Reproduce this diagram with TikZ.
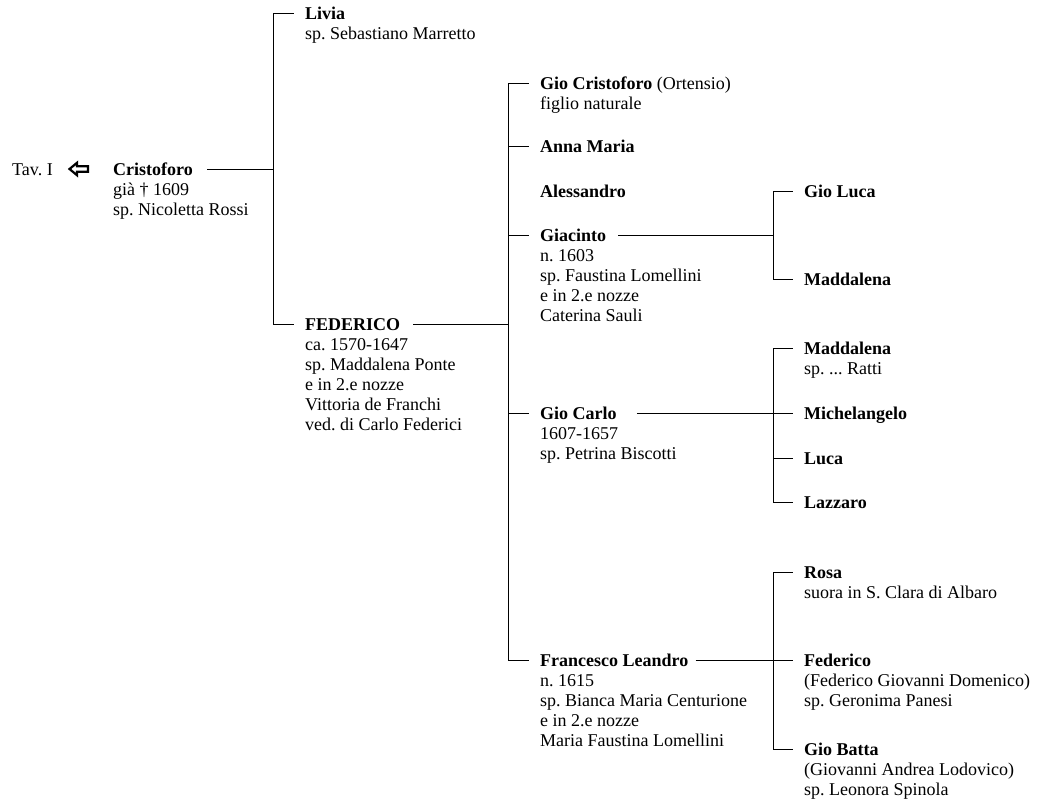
\documentclass[tikz,border=0pt]{standalone}
\usepackage{fontspec}
\setmainfont{Liberation Serif}
\usepackage{tikz}
\usetikzlibrary{positioning}
\frenchspacing
\newcommand\grund{\fontsize{18}{20}\selectfont}
\newcommand\daten[1]{\begin{tabular}[t]{@{}l@{}}#1\end{tabular}}
\tikzset{
  Name/.style={anchor=west, inner sep=0pt, text height=12pt, text depth=0pt, font=\grund\bfseries}, % Name, Linie auf Mitte
  Daten/.style={anchor=base west, inner sep=0pt, font=\grund}, % Zeilen unter dem Namen
  Linie/.style={line width=1pt},
  Ast/.style={Linie, shorten >=11.5pt}, % Ast zum Kind
  Pfeil/.style={line width=2.2pt, line join=miter}
}

\begin{document}
\begin{tikzpicture}[x=1pt, y=-1pt]
\useasboundingbox (0,0) rectangle (1053,809);

%Verweis
\node (tav) [Daten] at (12,175) {Tav. I};
\draw[Pfeil] (69.5,169) -- (77,162.8) -- (77,166.3) -- (88,166.3) -- (88,171.7)
  -- (77,171.7) -- (77,175.2) -- cycle;

%Personen
\node (cris) [Name] at (113,169) {Cristoforo};
\node (cris-d) [Daten] at ([yshift=-20pt]cris.base west) {\daten{già † 1609\\sp. Nicoletta Rossi}};

\node (livia) [Name] at (305,13) {Livia};
\node (livia-d) [Daten] at ([yshift=-20pt]livia.base west) {\daten{sp. Sebastiano Marretto}};

\node (fed) [Name] at (305,324) {FEDERICO};
\node (fed-d) [Daten] at ([yshift=-20pt]fed.base west) {\daten{ca. 1570-1647\\sp. Maddalena Ponte\\e in 2.e nozze\\Vittoria de Franchi\\ved. di Carlo Federici}};

\node (gcr) [Name] at (540,83) {Gio Cristoforo {\mdseries (Ortensio)}};
\node (gcr-d) [Daten] at ([yshift=-20pt]gcr.base west) {\daten{figlio naturale}};
\node (anna) [Name] at (540,146) {Anna Maria};
\node (aless) [Name] at (540,191) {Alessandro};
\node (giac) [Name] at (540,235) {Giacinto};
\node (giac-d) [Daten] at ([yshift=-20pt]giac.base west) {\daten{n. 1603\\sp. Faustina Lomellini\\e in 2.e nozze\\Caterina Sauli}};
\node (gcar) [Name] at (540,413) {Gio Carlo};
\node (gcar-d) [Daten] at ([yshift=-20pt]gcar.base west) {\daten{1607-1657\\sp. Petrina Biscotti}};
\node (fran) [Name] at (540,660) {Francesco Leandro};
\node (fran-d) [Daten] at ([yshift=-20pt]fran.base west) {\daten{n. 1615\\sp. Bianca Maria Centurione\\e in 2.e nozze\\Maria Faustina Lomellini}};

\node (gluca) [Name] at (804,191) {Gio Luca};
\node (madd) [Name] at (804,279) {Maddalena};

\node (madd2) [Name] at (804,348) {Maddalena};
\node (madd2-d) [Daten] at ([yshift=-20pt]madd2.base west) {\daten{sp. ... Ratti}};
\node (mich) [Name] at (804,413) {Michelangelo};
\node (luca) [Name] at (804,458) {Luca};
\node (lazz) [Name] at (804,502) {Lazzaro};

\node (rosa) [Name] at (804,572) {Rosa};
\node (rosa-d) [Daten] at ([yshift=-20pt]rosa.base west) {\daten{suora in S. Clara di Albaro}};
\node (fede) [Name] at (804,660) {Federico};
\node (fede-d) [Daten] at ([yshift=-20pt]fede.base west) {\daten{(Federico Giovanni Domenico)\\sp. Geronima Panesi}};
\node (gbat) [Name] at (804,749) {Gio Batta};
\node (gbat-d) [Daten] at ([yshift=-20pt]gbat.base west) {\daten{(Giovanni Andrea Lodovico)\\sp. Leonora Spinola}};

%Verzweigungen
\coordinate (j0) at (273,169);
\coordinate (j1) at (508,324);
\coordinate (j2) at (773,235);
\coordinate (j3) at (773,413);
\coordinate (j4) at (773,660);

%Linien
\draw[Linie, shorten <=14pt] (cris.east) -- (j0);
\foreach \k in {livia,fed} \draw[Ast] (j0) |- (\k.west);

\draw[Linie, shorten <=13pt] (fed.east) -- (j1);
\foreach \k in {gcr,anna,giac,gcar,fran} \draw[Ast] (j1) |- (\k.west);

\draw[Linie, shorten <=12pt] (giac.east) -- (j2);
\foreach \k in {gluca,madd} \draw[Ast] (j2) |- (\k.west);

\draw[Linie, shorten <=20pt] (gcar.east) -- (j3);
\foreach \k in {madd2,mich,luca,lazz} \draw[Ast] (j3) |- (\k.west);

\draw[Linie, shorten <=7pt] (fran.east) -- (j4);
\foreach \k in {rosa,fede,gbat} \draw[Ast] (j4) |- (\k.west);

\end{tikzpicture}
\end{document}
